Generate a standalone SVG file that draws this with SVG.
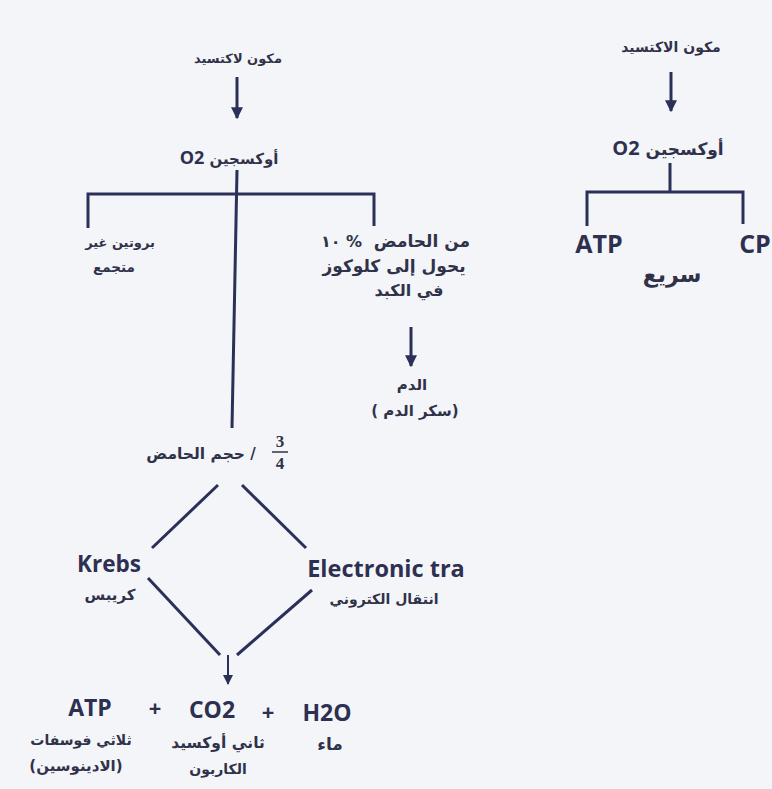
<svg xmlns="http://www.w3.org/2000/svg" width="772" height="789" viewBox="0 0 772 789">
<style>
.ar{font-family:"DejaVu Sans","Noto Sans",sans-serif;font-weight:bold;font-size:14px;fill:#30324a;text-anchor:middle}
.la{font-family:"Open Sans","Liberation Sans",sans-serif;font-weight:bold;font-size:23px;fill:#2d3050;text-anchor:middle}
.ln{stroke:#2b3058;stroke-width:3;fill:none;stroke-linecap:butt}
.fr{font-family:"Liberation Serif",serif;font-weight:bold;font-size:17px;fill:#30324a;text-anchor:middle}
</style>
<defs>
<marker id="ah" viewBox="0 0 10 10" refX="9" refY="5" markerWidth="4" markerHeight="4" orient="auto" markerUnits="strokeWidth">
<path d="M0,0 L10,5 L0,10 z" fill="#2b3058"/>
</marker>
<marker id="ah2" viewBox="0 0 10 10" refX="9" refY="5" markerWidth="5" markerHeight="5" orient="auto" markerUnits="strokeWidth">
<path d="M0,0 L10,5 L0,10 z" fill="#2b3058"/>
</marker>
</defs>
<rect x="0" y="0" width="772" height="789" fill="#f4f5f9"/>
<g id="connectors">
<line class="ln" x1="237" y1="77" x2="237" y2="118" marker-end="url(#ah)"/>
<line class="ln" x1="237" y1="170" x2="232" y2="428"/>
<polyline class="ln" points="88,228 88,194 374,194 374,226"/>
<line class="ln" x1="411" y1="327" x2="411" y2="366" marker-end="url(#ah)"/>
<line class="ln" x1="218" y1="485" x2="152" y2="548"/>
<line class="ln" x1="242" y1="485" x2="306" y2="548"/>
<line class="ln" x1="148" y1="578" x2="220" y2="655"/>
<line class="ln" x1="312" y1="590" x2="237" y2="655"/>
<line class="ln" style="stroke-width:2" x1="228" y1="655" x2="228" y2="684" marker-end="url(#ah2)"/>
<line class="ln" x1="671" y1="72" x2="671" y2="111" marker-end="url(#ah)"/>
<line class="ln" x1="670" y1="163" x2="670" y2="192"/>
<polyline class="ln" points="587,226 587,192 743,192 743,224"/>
</g>
<g id="lactic-title"><text class="ar" x="238" y="63" style="font-size:13px" direction="rtl">مكون لاكتسيد</text></g>
<g id="oxygen-left"><text class="ar" x="229" y="164" style="font-size:15px" direction="rtl">أوكسجين  <tspan class="la" style="font-size:18px">O2</tspan></text></g>
<g id="protein"><text class="ar" x="120" y="247" style="font-size:13px" direction="rtl">بروتين غير</text><text class="ar" x="114" y="272" style="font-size:13.5px">متجمع</text></g>
<g id="acid10">
<text class="ar" x="321" y="247" style="text-anchor:start;font-size:16px">١٠ %</text>
<text class="ar" x="470" y="247" style="text-anchor:start;font-size:17px" direction="rtl">من الحامض</text>
<text class="ar" x="394" y="272" style="font-size:17px" direction="rtl">يحول إلى كلوكوز</text>
<text class="ar" x="409" y="296" style="font-size:16px" direction="rtl">في الكبد</text>
</g>
<g id="blood"><text class="ar" x="412" y="390" style="font-size:15px">الدم</text><text class="ar" x="415" y="416" style="font-size:15px" direction="rtl">(سكر الدم )</text></g>
<g id="acid-volume">
<text class="ar" x="245" y="459" style="text-anchor:end;font-size:15.5px" direction="ltr">حجم الحامض</text>
<text class="ar" x="253" y="459" style="font-size:15px">/</text>
<text class="fr" x="280" y="447">3</text>
<line x1="272" y1="452" x2="288" y2="452" stroke="#30324a" stroke-width="1.5"/>
<text class="fr" x="280" y="469">4</text>
</g>
<g id="krebs"><text class="la" x="109" y="572" style="font-size:22.5px">Krebs</text><text class="ar" x="110" y="600" style="font-size:15px">كريبس</text></g>
<g id="electronic"><text class="la" x="386" y="577" style="font-size:23.5px">Electronic tra</text><text class="ar" x="384" y="604" direction="rtl">انتقال الكتروني</text></g>
<g id="products">
<text class="la" x="90" y="716">ATP</text>
<text class="la" x="155" y="716" style="font-size:22px">+</text>
<text class="la" x="212" y="718">CO2</text>
<text class="la" x="268" y="720" style="font-size:22px">+</text>
<text class="la" x="327" y="721">H2O</text>
<text class="ar" x="81" y="745" direction="rtl">ثلاثي فوسفات</text>
<text class="ar" x="76" y="771" style="font-size:15px" direction="rtl">(الادينوسين)</text>
<text class="ar" x="218" y="748" style="font-size:15.5px" direction="rtl">ثاني  أوكسيد</text>
<text class="ar" x="218" y="774">الكاربون</text>
<text class="ar" x="330" y="750" style="font-size:17px">ماء</text>
</g>
<g id="alactic-title"><text class="ar" x="671" y="52" direction="rtl">مكون الاكتسيد</text></g>
<g id="oxygen-right"><text class="ar" x="668" y="155" style="font-size:17px" direction="rtl">أوكسجين  <tspan class="la" style="font-size:20px">O2</tspan></text></g>
<g id="atp-right"><text class="la" x="599" y="253" style="font-size:25px">ATP</text></g>
<g id="cp"><text class="la" x="755" y="253" style="font-size:25px">CP</text></g>
<g id="fast"><text class="ar" x="672" y="282" style="font-size:22px">سريع</text></g>
</svg>
